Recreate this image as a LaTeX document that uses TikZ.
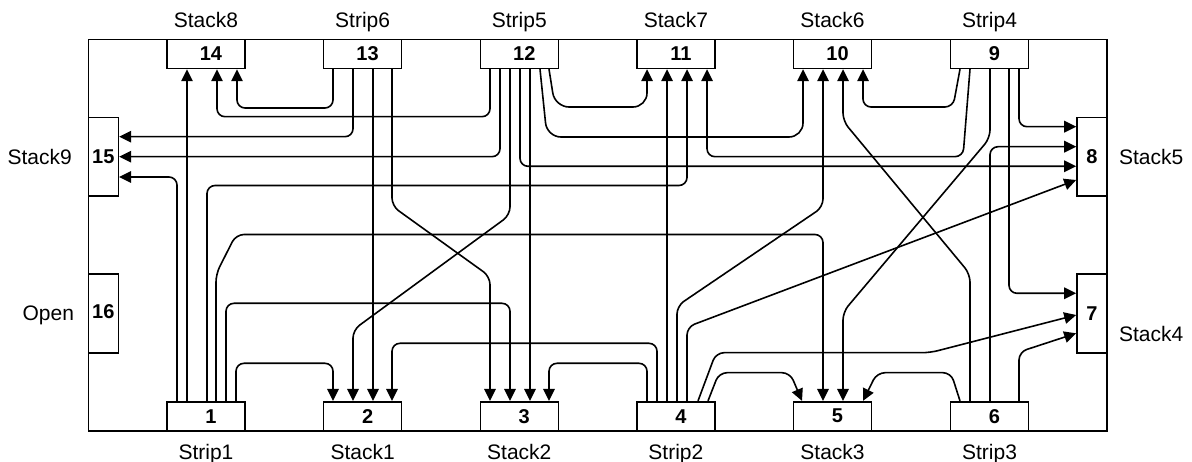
\documentclass[tikz,border=0pt]{standalone}
\usepackage{fontspec}
\setmainfont{Liberation Sans}
\usetikzlibrary{arrows.meta}
\tikzset{
  >={Triangle[length=12pt,width=11.5pt]},
  % rutor
  bx/.style={draw=black,fill=white,line width=1.6pt,inner sep=0pt,
             minimum width=78pt,minimum height=29pt,
             font=\fontsize{20}{24}\selectfont\bfseries,
             execute at begin node=\kern10pt},
  sx/.style={draw=black,fill=white,line width=1.6pt,inner sep=0pt,
             minimum width=30pt,minimum height=78.5pt,
             font=\fontsize{20}{24}\selectfont\bfseries},
  lb/.style={font=\fontsize{21}{25}\selectfont,inner sep=0pt},
  fr/.style={draw=black,line width=1.6pt},
  % ledningar
  ce/.style={->,draw=black,line width=1.6pt,rounded corners=8pt},
}
\begin{document}
\begin{tikzpicture}[x=1pt,y=-1pt]
  \useasboundingbox (0,0) rectangle (1192,462);
  \draw[fr] (88.3,39.5) rectangle (1107,430.7);
  \node[bx] (p14) at (206,53.9) {14};
  \node[bx] (p13) at (362.6,53.9) {13};
  \node[bx] (p12) at (519.3,53.9) {12};
  \node[bx] (p11) at (675.9,53.9) {11};
  \node[bx] (p10) at (832.5,53.9) {10};
  \node[bx] (p9) at (989.5,53.9) {9};
  \node[bx] (p1) at (206,416.2) {1};
  \node[bx] (p2) at (362.6,416.2) {2};
  \node[bx] (p3) at (519.3,416.2) {3};
  \node[bx] (p4) at (675.9,416.2) {4};
  \node[bx] (p5) at (832.5,416.2) {5};
  \node[bx] (p6) at (989.5,416.2) {6};
  \node[sx] (p15) at (103.3,156.7) {15};
  \node[sx] (p16) at (103.3,313.5) {\raisebox{4.5pt}{16}};
  \node[sx] (p8) at (1092,156.7) {8};
  \node[sx] (p7) at (1092,313.5) {7};
  \node[lb,anchor=base] (t14) at ([yshift=11pt]p14.north) {Stack8};
  \node[lb,anchor=base] (t13) at ([yshift=11pt]p13.north) {Strip6};
  \node[lb,anchor=base] (t12) at ([yshift=11pt]p12.north) {Strip5};
  \node[lb,anchor=base] (t11) at ([yshift=11pt]p11.north) {Stack7};
  \node[lb,anchor=base] (t10) at ([yshift=11pt]p10.north) {Stack6};
  \node[lb,anchor=base] (t9) at ([yshift=11pt]p9.north) {Strip4};
  \node[lb,anchor=base] (t1) at ([yshift=-28pt]p1.south) {Strip1};
  \node[lb,anchor=base] (t2) at ([yshift=-28pt]p2.south) {Stack1};
  \node[lb,anchor=base] (t3) at ([yshift=-28pt]p3.south) {Stack2};
  \node[lb,anchor=base] (t4) at ([yshift=-28pt]p4.south) {Strip2};
  \node[lb,anchor=base] (t5) at ([yshift=-28pt]p5.south) {Stack3};
  \node[lb,anchor=base] (t6) at ([yshift=-28pt]p6.south) {Strip3};
  \node[lb,anchor=base east] (t15) at ([xshift=-15.5pt,yshift=-7.5pt]p15.west) {Stack9};
  \node[lb,anchor=base east] (t16) at ([xshift=-13.3pt,yshift=-6.7pt]p16.west) {Open};
  \node[lb,anchor=base west] (t8) at ([xshift=11pt,yshift=-7.5pt]p8.east) {Stack5};
  \node[lb,anchor=base west] (t7) at ([xshift=11pt,yshift=-28.2pt]p7.east) {Stack4};
  % fran 1
  \draw[ce] (177,0 |- p1.north) |- (p15.east |- 0,177);
  \draw[ce] (187,0 |- p1.north) -- (187,0 |- p14.south);
  \draw[ce] (207,0 |- p1.north) |- (687,185.5) -- (687,0 |- p11.south);
  \draw[ce] (216,0 |- p1.north) -- (216,274) -- (236,234.5) -- (823,234.5) -- (823,0 |- p5.north);
  \draw[ce] (226,0 |- p1.north) |- (510,303.3) -- (510,0 |- p3.north);
  \draw[ce] (236,0 |- p1.north) |- (333,363.3) -- (333,0 |- p2.north);
  % fran 4
  \draw[ce] (647,0 |- p4.north) |- (549,363.3) -- (549,0 |- p3.north);
  \draw[ce] (657,0 |- p4.north) |- (392,343.3) -- (392,0 |- p2.north);
  \draw[ce] (667,0 |- p4.north) -- (667,0 |- p11.south);
  \draw[ce] (677,0 |- p4.north) -- (677,306) -- (823,207) -- (823,0 |- p10.south);
  \draw[ce] (687,0 |- p4.north) -- (687,327) -- (p8.west |- 0,180);
  \draw[ce] (698,0 |- p4.north) -- (716,352.7) -- (930,352.7) -- (p7.west |- 0,315);
  \draw[ce] (708,0 |- p4.north) -- (719,372.7) -- (790,372.7) -- (802,0 |- p5.north);
  % fran 6
  \draw[ce] (960,0 |- p6.north) -- (951,372.7) -- (877,372.7) -- (863,0 |- p5.north);
  \draw[ce] (970,0 |- p6.north) -- (970,274) -- (843,121) -- (843,0 |- p10.south);
  \draw[ce] (990,0 |- p6.north) |- (p8.west |- 0,146.7);
  \draw[ce] (1019,0 |- p6.north) -- (1019,352) -- (p7.west |- 0,333.3);
  % fran 9
  \draw[ce] (960,0 |- p9.south) -- (953,107) -- (863,107) -- (863,0 |- p10.south);
  \draw[ce] (970,0 |- p9.south) -- (963,156.7) -- (707,156.7) -- (707,0 |- p11.south);
  \draw[ce] (990,0 |- p9.south) -- (990,138) -- (843,312) -- (843,0 |- p5.north);
  \draw[ce] (1009,0 |- p9.south) |- (p7.west |- 0,293.3);
  \draw[ce] (1019,0 |- p9.south) |- (p8.west |- 0,126.7);
  % fran 12
  \draw[ce] (490,0 |- p12.south) |- (217,116.7) -- (217,0 |- p14.south);
  \draw[ce] (500,0 |- p12.south) |- (p15.east |- 0,156.7);
  \draw[ce] (510,0 |- p12.south) -- (510,215) -- (353,330) -- (353,0 |- p2.north);
  \draw[ce] (520,0 |- p12.south) |- (p8.west |- 0,166.3);
  \draw[ce] (530,0 |- p12.south) -- (530,0 |- p3.north);
  \draw[ce,rounded corners=14pt] (540,0 |- p12.south) -- (547,137) -- (803,137) -- (803,0 |- p10.south);
  \draw[ce,rounded corners=14pt] (549,0 |- p12.south) -- (555,107) -- (647,107) -- (647,0 |- p11.south);
  % fran 13
  \draw[ce] (333,0 |- p13.south) |- (237,108) -- (237,0 |- p14.south);
  \draw[ce] (353,0 |- p13.south) |- (p15.east |- 0,136.7);
  \draw[ce] (373,0 |- p13.south) -- (373,0 |- p2.north);
  \draw[ce] (392,0 |- p13.south) -- (392,206) -- (490,276.5) -- (490,0 |- p3.north);
\end{tikzpicture}
\end{document}
